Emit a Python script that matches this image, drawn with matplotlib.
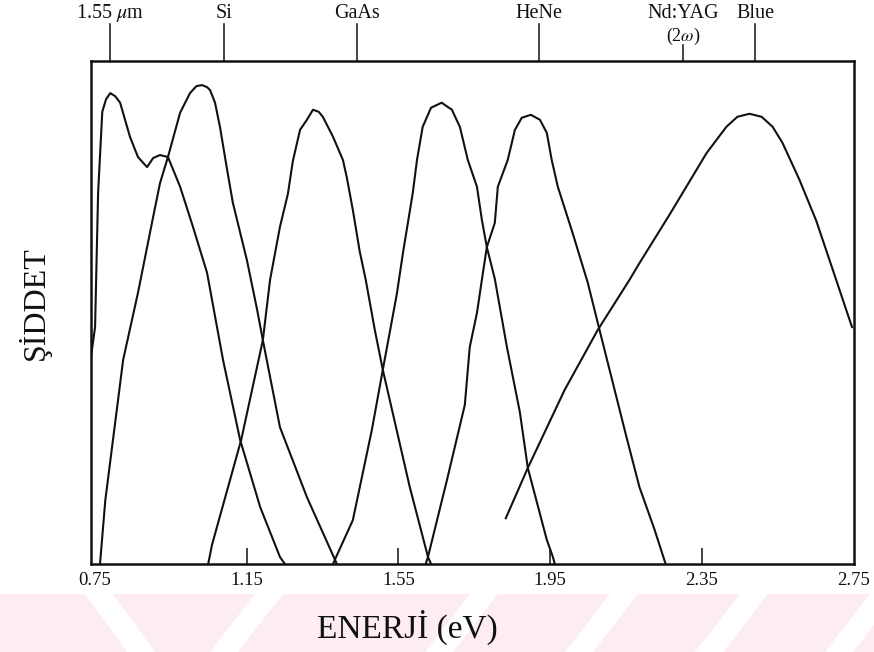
import matplotlib
matplotlib.use('Agg')
import matplotlib.pyplot as plt
from matplotlib.patches import Polygon

plt.rcParams['font.family'] = ['Liberation Serif', 'DejaVu Serif']
plt.rcParams['mathtext.fontset'] = 'stix'

# photon energy (eV) and relative intensity
a_x = [0.741, 0.751, 0.759, 0.770, 0.780, 0.791, 0.804, 0.817, 0.843, 0.864, 0.888,
       0.904, 0.922, 0.943, 0.975, 1.009, 1.046, 1.088, 1.133, 1.186, 1.238, 1.251]
a_y = [0.416, 0.471, 0.738, 0.899, 0.924, 0.936, 0.930, 0.917, 0.849, 0.809, 0.789,
       0.807, 0.813, 0.809, 0.750, 0.670, 0.579, 0.406, 0.247, 0.113, 0.014, 0.0]

b_x = [0.764, 0.778, 0.825, 0.864, 0.904, 0.922, 0.943, 0.975, 1.001, 1.018, 1.033, 1.046,
       1.054, 1.067, 1.080, 1.099, 1.114, 1.151, 1.178, 1.193, 1.238, 1.309, 1.388]
b_y = [0.0, 0.127, 0.406, 0.539, 0.690, 0.757, 0.809, 0.897, 0.936, 0.950, 0.952, 0.948,
       0.942, 0.917, 0.869, 0.783, 0.718, 0.604, 0.505, 0.445, 0.272, 0.133, 0.0]

c_x = [1.049, 1.059, 1.136, 1.193, 1.212, 1.238, 1.259, 1.272, 1.291, 1.309, 1.325, 1.340,
       1.351, 1.378, 1.404, 1.414, 1.430, 1.448, 1.464, 1.488, 1.509, 1.580, 1.628, 1.636]
c_y = [0.0, 0.038, 0.247, 0.445, 0.565, 0.670, 0.736, 0.801, 0.863, 0.883, 0.903, 0.899,
       0.889, 0.849, 0.803, 0.769, 0.704, 0.622, 0.565, 0.465, 0.386, 0.153, 0.014, 0.0]

d_x = [1.378, 1.386, 1.430, 1.480, 1.509, 1.546, 1.562, 1.588, 1.599, 1.614, 1.636, 1.664, 1.691,
       1.712, 1.733, 1.757, 1.770, 1.783, 1.804, 1.836, 1.870, 1.891, 1.941, 1.957, 1.962]
d_y = [0.0, 0.014, 0.087, 0.266, 0.386, 0.537, 0.618, 0.738, 0.803, 0.869, 0.907, 0.917, 0.903,
       0.869, 0.803, 0.750, 0.684, 0.630, 0.567, 0.431, 0.302, 0.191, 0.048, 0.014, 0.0]

e_x = [1.622, 1.628, 1.678, 1.725, 1.738, 1.757, 1.770, 1.783, 1.804, 1.812, 1.838, 1.857, 1.875,
       1.899, 1.923, 1.941, 1.954, 1.970, 2.009, 2.049, 2.080, 2.151, 2.185, 2.225, 2.254]
e_y = [0.0, 0.014, 0.167, 0.316, 0.431, 0.499, 0.565, 0.630, 0.678, 0.750, 0.803, 0.863, 0.887,
       0.893, 0.883, 0.857, 0.803, 0.750, 0.658, 0.559, 0.465, 0.252, 0.153, 0.068, 0.0]

f_x = [1.833, 1.891, 1.988, 2.075, 2.159, 2.185, 2.264, 2.362, 2.414, 2.443, 2.475, 2.507,
       2.536, 2.562, 2.607, 2.651, 2.693, 2.745]
f_y = [0.091, 0.191, 0.346, 0.465, 0.565, 0.598, 0.694, 0.817, 0.869, 0.889, 0.895, 0.889,
       0.869, 0.837, 0.763, 0.682, 0.588, 0.471]

tick_vals = [0.75, 1.15, 1.55, 1.95, 2.35, 2.75]
tick_labels = ['0.75', '1.15', '1.55', '1.95', '2.35', '2.75']

top_pos = [0.79, 1.09, 1.44, 1.92, 2.30, 2.49]
top_labels = ['1.55 $\\mu$m', 'Si', 'GaAs', 'HeNe', 'Nd:YAG\n(2$\\omega$)', 'Blue']

fig = plt.figure(figsize=(8.74, 6.52), dpi=100)
ax = fig.add_axes([0.104, 0.135, 0.873, 0.7715])

# faint pink watermark strip at the bottom of the scan
W, H = 874.0, 652.0
fig.patches.append(Polygon([[0, 0], [1, 0], [1, 1 - 594 / H], [0, 1 - 594 / H]],
                           closed=True, transform=fig.transFigure,
                           facecolor='#fdecf0', edgecolor='none', zorder=0))
for x0 in [255, 470, 610, 740, 870]:
    fig.patches.append(Polygon([[x0 / W, 1 - 594 / H], [(x0 + 28) / W, 1 - 594 / H],
                                [(x0 - 17) / W, 0], [(x0 - 45) / W, 0]],
                               closed=True, transform=fig.transFigure,
                               facecolor='white', edgecolor='none', zorder=0))
fig.patches.append(Polygon([[85 / W, 1 - 594 / H], [113 / W, 1 - 594 / H],
                            [155 / W, 0], [127 / W, 0]],
                           closed=True, transform=fig.transFigure,
                           facecolor='white', edgecolor='none', zorder=0))
ax.set_facecolor('none')

for xs, ys in [(a_x, a_y), (b_x, b_y), (c_x, c_y), (d_x, d_y), (e_x, e_y), (f_x, f_y)]:
    ax.plot(xs, ys, color='#111111', lw=1.5, solid_joinstyle='round')

ax.set_xlim(0.74, 2.75)
ax.set_ylim(0, 1)
ax.set_yticks([])
ax.set_xticks(tick_vals)
ax.set_xticklabels(tick_labels, fontsize=13.5)
ax.tick_params(axis='x', direction='in', length=11.5, width=1.1, pad=6, colors='#111111')
ticks = ax.xaxis.get_major_ticks()
ticks[0].tick1line.set_visible(False)
ticks[-1].tick1line.set_visible(False)
for s in ax.spines.values():
    s.set_linewidth(1.8)
    s.set_color('#111111')

# source wavelengths marked above the frame
trans = ax.get_xaxis_transform()
for pos, lab in zip(top_pos, top_labels):
    lines = lab.split('\n')
    h = 0.032 if len(lines) > 1 else 0.074
    ax.plot([pos, pos], [1.0, 1.0 + h], color='#111111', lw=1.1,
            transform=trans, clip_on=False)
    for k, line in enumerate(lines):
        ax.text(pos, 1.0855 - 0.045 * k, line, transform=trans, ha='center',
                va='baseline', fontsize=14.5 - 1.5 * k, color='#111111')

fig.text(0.466, 0.037, 'ENERJİ (eV)', fontsize=24, ha='center', va='center', color='#111111')
fig.text(0.039, 0.535, 'ŞİDDET', fontsize=23, rotation=90, ha='center', va='center',
         color='#111111')

fig.savefig('out.png', dpi=100)
